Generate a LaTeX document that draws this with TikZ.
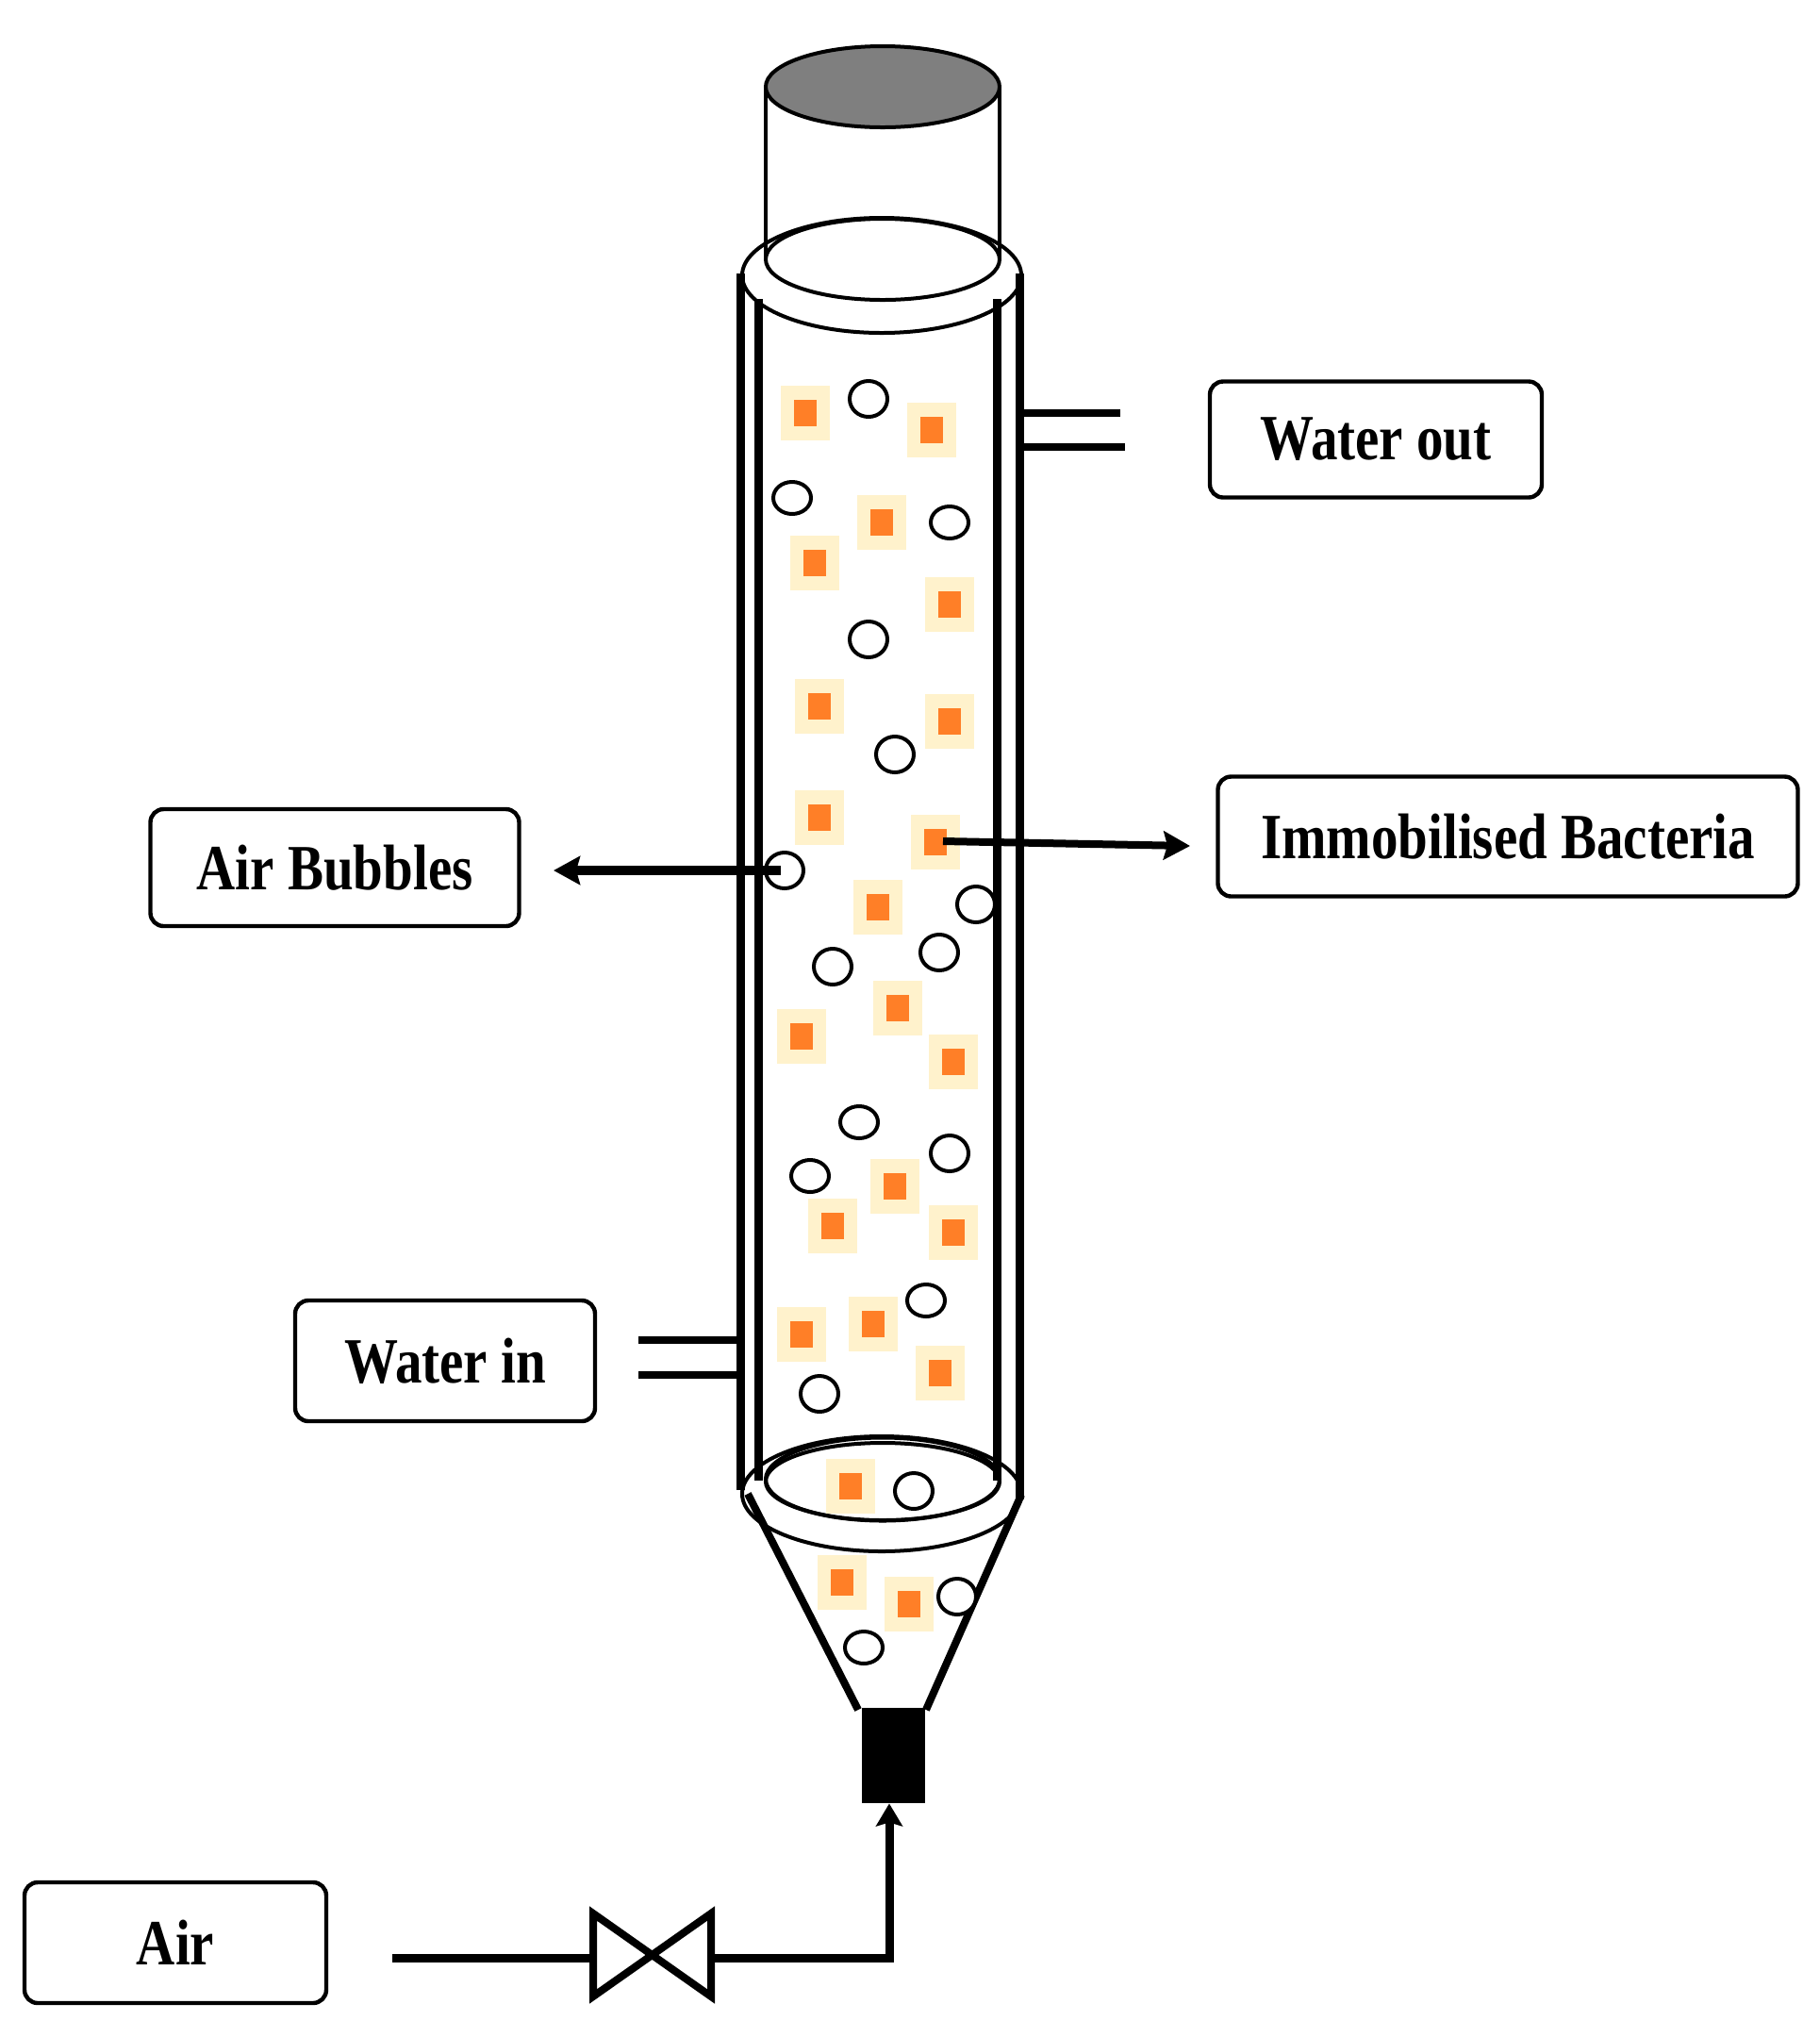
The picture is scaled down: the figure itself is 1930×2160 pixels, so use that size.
\documentclass[tikz,border=0pt]{standalone}
\usepackage{graphicx}
\usepackage{fontspec}
\setmainfont{Liberation Serif}
\usetikzlibrary{arrows.meta,positioning,calc,shapes.geometric}
\definecolor{halo}{HTML}{FFF2CC}
\definecolor{laranja}{HTML}{FF7F27}
\definecolor{tampa}{HTML}{7F7F7F}
\newcommand{\etq}[1]{\scalebox{1}[1.2]{#1}}

\begin{document}
\begin{tikzpicture}[x=0.5pt, y=-0.5pt, >={Stealth[length=14pt,width=15pt,inset=2pt]},
  lbl/.style={draw, line width=2.2pt, rounded corners=7pt, align=center, inner sep=0pt, font=\fontsize{28.5}{32}\selectfont\bfseries},
  bac/.style={fill=halo, minimum width=26pt, minimum height=29pt, inner sep=0pt,
    path picture={\fill[laranja] (-12,-14) rectangle (12,14);}},
  bub/.style={draw, fill=white, ellipse, line width=2pt, minimum width=20pt, minimum height=19pt, inner sep=0pt},
  bubf/.style={bub, minimum height=17pt},
  rim/.style={line width=2pt},
  wall/.style={line width=4.5pt},
  pipe/.style={line width=4.5pt}]
  \useasboundingbox (0,0) rectangle (1930,2160);
  % gas column on top
  \draw[rim] (812,92) -- (812,275);
  \draw[rim] (1060,92) -- (1060,275);
  \draw[rim, fill=tampa] (936,92) ellipse [x radius=124, y radius=43];
  % flanges
  \draw[rim] (935,292) ellipse [x radius=148, y radius=61];
  \draw[rim] (936,275) ellipse [x radius=124, y radius=43];
  \draw[rim] (935,1584) ellipse [x radius=148, y radius=61];
  \draw[rim] (936,1568.5) ellipse [x radius=124, y radius=44];
  \draw[rim] (936,1571) ellipse [x radius=124, y radius=41];
  % jacket walls
  \draw[wall] (785,290) -- (785,1580);
  \draw[wall] (804,317) -- (804,1570);
  \draw[wall] (1057,317) -- (1057,1570);
  \draw[wall] (1081,290) -- (1081,1590);
  % cone and sparger
  \draw[line width=4pt] (793,1584) -- (910,1813);
  \draw[line width=4pt] (1083,1585) -- (982,1813);
  \node[fill=black, minimum width=33.5pt, minimum height=50.5pt, inner sep=0pt] (sparger) at (947.5,1861.5) {};
  % labels
  \node[lbl, minimum width=176pt, minimum height=61.5pt] (wout) at (1459,466) {\etq{Water out}};
  \node[lbl, minimum width=307.5pt, minimum height=63.5pt] (immob) at (1599,887) {\etq{Immobilised Bacteria}};
  \node[lbl, minimum width=195.5pt, minimum height=62pt] (abub) at (355,920) {\etq{Air Bubbles}};
  \node[lbl, minimum width=159pt, minimum height=64pt] (win) at (472,1443) {\etq{Water in}};
  \node[lbl, minimum width=160pt, minimum height=64pt] (air) at (186,2060) {\etq{Air}};
  % bacteria
  \node[bac] (b1) at (854,438) {};
  \node[bac] (b2) at (988,456) {};
  \node[bac] (b3) at (935,554) {};
  \node[bac] (b4) at (864,597) {};
  \node[bac] (b5) at (1007,641) {};
  \node[bac] (b6) at (869,749) {};
  \node[bac] (b7) at (1007,765) {};
  \node[bac] (b8) at (869,867) {};
  \node[bac] (b9) at (992,893) {};
  \node[bac] (b10) at (931,962) {};
  \node[bac] (b11) at (952,1069) {};
  \node[bac] (b12) at (850,1099) {};
  \node[bac] (b13) at (1011,1126) {};
  \node[bac] (b14) at (949,1258) {};
  \node[bac] (b15) at (883,1300) {};
  \node[bac] (b16) at (1011,1307) {};
  \node[bac] (b17) at (850,1415) {};
  \node[bac] (b18) at (926,1404) {};
  \node[bac] (b19) at (997,1456) {};
  \node[bac] (b20) at (902,1576) {};
  \node[bac] (b21) at (893,1678) {};
  \node[bac] (b22) at (964,1701) {};
  % bubbles
  \node[bub] (c1) at (921,423) {};
  \node[bubf] (c2) at (840,528) {};
  \node[bubf] (c3) at (1007,554) {};
  \node[bub] (c4) at (921,678) {};
  \node[bub] (c5) at (949,800) {};
  \node[bub] (c6) at (832,923) {};
  \node[bub] (c7) at (1035,959) {};
  \node[bub] (c8) at (996,1010) {};
  \node[bub] (c9) at (883,1025) {};
  \node[bubf] (c10) at (911,1190) {};
  \node[bub] (c11) at (1007,1223) {};
  \node[bubf] (c12) at (859,1247) {};
  \node[bubf] (c13) at (982,1379) {};
  \node[bub] (c14) at (869,1478) {};
  \node[bub] (c15) at (969,1581) {};
  \node[bub] (c16) at (1015,1693) {};
  \node[bubf] (c17) at (916,1747) {};
  % free ends
  \coordinate (woutA) at (1188,438);
  \coordinate (woutB) at (1193,474);
  \coordinate (winA) at (677,1421);
  \coordinate (winB) at (677,1458);
  \coordinate (abubtip) at (587,923);
  \coordinate (immobtip) at (1262,897);
  \coordinate (airstart) at (416,2076);
  \coordinate (vUL) at (629,2029);
  \coordinate (vLL) at (629,2117);
  \coordinate (vUR) at (754,2029);
  \coordinate (vLR) at (754,2117);
  \coordinate (vL) at (629,2076);
  \coordinate (vR) at (754,2076);
  \coordinate (airbend) at (943,2076);
  % connectors
  \draw[line width=3.6pt] (1085,438) -- (woutA);
  \draw[line width=3.6pt] (1085,474) -- (woutB);
  \draw[line width=3.6pt] (winA) -- (783,1421);
  \draw[line width=3.6pt] (winB) -- (783,1458);
  \draw[->, line width=5pt] (c6) ++(-4,0) -- (abubtip);
  \draw[->, line width=4pt] (b9) ++(8,-1) -- (immobtip);
  \draw[pipe] (airstart) -- (vL);
  \draw[line width=4pt] (vUL) -- (vLR) -- (vUR) -- (vLL) -- cycle;
  \draw[pipe] (vR) -- (airbend) -- ++(0,-2);
  \draw[pipe, -{Stealth[length=12pt,width=14pt,inset=2pt]}] (airbend) -- (airbend |- sparger.south);
\end{tikzpicture}
\end{document}
